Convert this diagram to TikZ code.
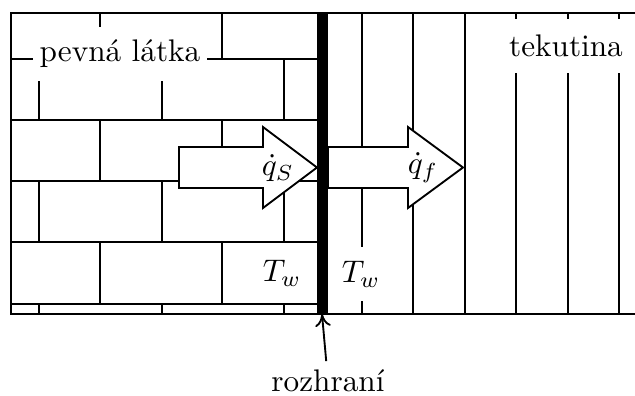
\documentclass[tikz,border=0pt]{standalone}
\usepackage{fontspec}
\usetikzlibrary{arrows.meta}
\begin{document}
\begin{tikzpicture}[x=0.32pt, y=-0.32pt, line width=0.6pt,
  tag/.style={fill=white, inner xsep=2pt, inner ysep=0pt, minimum height=17pt},
  flux/.style={draw, fill=white, line join=miter}]
\useasboundingbox (0,0) rectangle (635,396);

% Bricks of the solid
\begin{scope}
\clip (11,13) rectangle (322,314);
\foreach \y in {59,120,181,242,304}
  \draw (11,\y) -- (322,\y);
\foreach \y in {-2,120,242}
  \foreach \x in {100,222}
    \draw (\x,\y) -- (\x,\y+61);
\foreach \y in {59,181,304}
  \foreach \x in {39,162,284}
    \draw (\x,\y) -- (\x,\y+61);
\end{scope}

% Fluid layers
\foreach \x in {362,413.4,464.8,516.2,567.6,619}
  \draw (\x,13) -- (\x,314);

% Frame
\draw (635,13) -- (11,13) -- (11,314) -- (635,314);

% Heat flux arrows
\draw[flux] (179,147) -- (263,147) -- (263,127) -- (317,167.5) -- (263,208) -- (263,188) -- (179,188) -- cycle;
\draw[flux] (328,147) -- (408,147) -- (408,127) -- (463,167.5) -- (408,208) -- (408,188) -- (328,188) -- cycle;

% Interface
\draw[line width=3.4pt] (322.5,13) -- (322.5,314);

% Labels
\node[tag] (solid) at (120,54) {pevná látka};
\node[tag] (fluid) at (566,46) {tekutina};
\node (qs) at (278,168) {$\dot q_S$};
\node (qf) at (423,168) {$\dot q_f$};
\node (tws) at (282,273) {$T_w$};
\node[tag] (twf) at (361,274) {$T_w$};

% Interface pointer
\node[inner sep=2.5pt] (rozhrani) at (328,381) {rozhraní};
\coordinate (patka) at (322,314);
\draw[-{To[length=4pt,width=5pt]}] (rozhrani) -- (patka);

\end{tikzpicture}
\end{document}
